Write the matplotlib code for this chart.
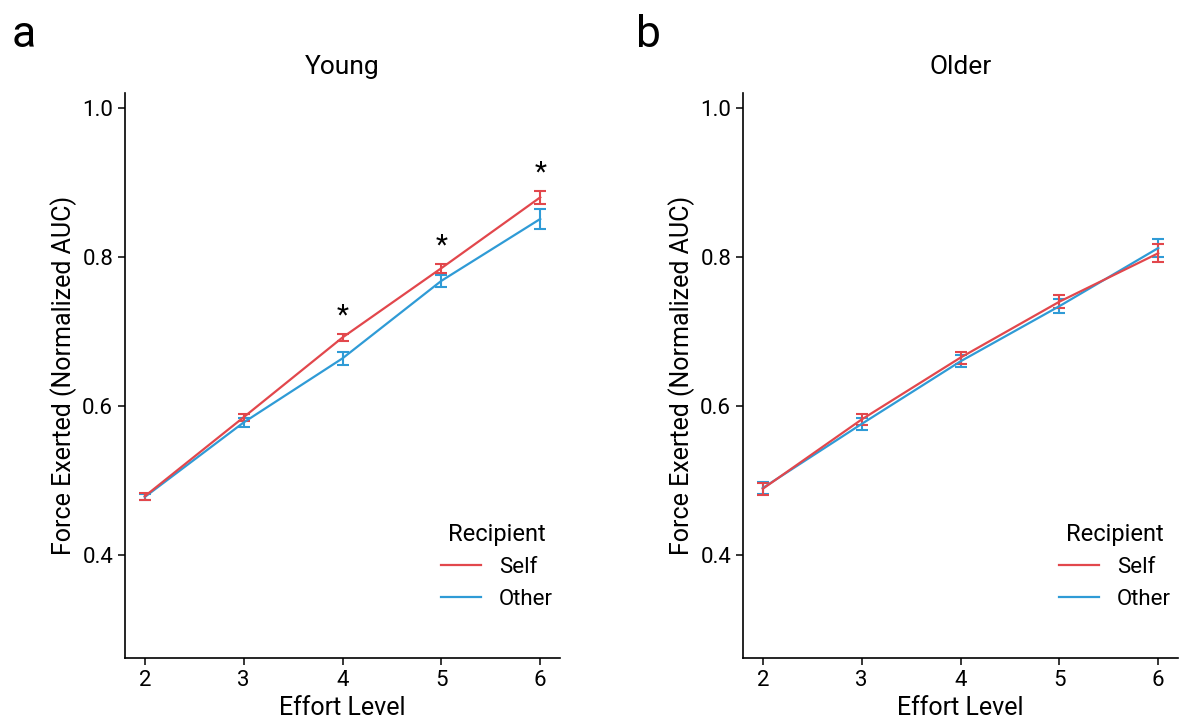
import matplotlib
matplotlib.use("Agg")
import matplotlib.pyplot as plt

plt.rcParams['font.family'] = ['Roboto', 'Liberation Sans', 'DejaVu Sans']

effort = [2, 3, 4, 5, 6]
young_self = [0.479, 0.585, 0.692, 0.785, 0.880]
young_self_err = [0.005, 0.005, 0.005, 0.006, 0.009]
young_other = [0.478, 0.578, 0.664, 0.768, 0.851]
young_other_err = [0.004, 0.006, 0.009, 0.008, 0.013]
older_self = [0.489, 0.582, 0.665, 0.740, 0.805]
older_self_err = [0.008, 0.008, 0.008, 0.009, 0.012]
older_other = [0.490, 0.576, 0.660, 0.734, 0.812]
older_other_err = [0.008, 0.008, 0.008, 0.009, 0.012]
star_levels = [4, 5, 6]
yticks = [0.4, 0.6, 0.8, 1.0]

RED = '#E2474C'
BLUE = '#2F9BD6'

fig = plt.figure(figsize=(11.8, 7.2), dpi=100)
W, H = 1180, 720
def mk(l, r):
    return fig.add_axes([l / W, (H - 658) / H, (r - l) / W, (658 - 93) / H])
axa = mk(125, 560)
axb = mk(743, 1178)

def draw(ax, s, se, o, oe, title):
    ax.errorbar(effort, o, yerr=oe, color=BLUE, lw=1.6, capsize=4, capthick=1.5, elinewidth=1.5, label='Other')
    ax.errorbar(effort, s, yerr=se, color=RED, lw=1.6, capsize=4, capthick=1.5, elinewidth=1.5, label='Self')
    ax.set_xlim(1.8, 6.2)
    ax.set_ylim(0.262, 1.02)
    ax.set_xticks(effort)
    ax.set_yticks(yticks)
    ax.set_yticklabels([f'{v:.1f}' for v in yticks])
    for sp in ['top', 'right']:
        ax.spines[sp].set_visible(False)
    for sp in ['left', 'bottom']:
        ax.spines[sp].set_linewidth(1.2)
    ax.tick_params(labelsize=16, length=5, width=1.1)
    ax.set_xlabel('Effort Level', fontsize=18, labelpad=4)
    ax.set_ylabel('Force Exerted (Normalized AUC)', fontsize=18)
    ax.set_title(title, fontsize=19, pad=14)
    h, l = ax.get_legend_handles_labels()
    hh = [hx[0] for hx in h]
    ax.legend([hh[1], hh[0]], ['Self', 'Other'], title='Recipient', fontsize=16, title_fontsize=17,
              frameon=False, loc='lower right', bbox_to_anchor=(1.03, 0.05), handlelength=1.8)

draw(axa, young_self, young_self_err, young_other, young_other_err, 'Young')
draw(axb, older_self, older_self_err, older_other, older_other_err, 'Older')

for x in star_levels:
    i = effort.index(x)
    axa.text(x, young_self[i] + young_self_err[i] + 0.006, '*', ha='center', va='bottom', fontsize=20)

fig.text(12 / W, 1 - 35 / H, 'a', fontsize=32, va='center')
fig.text(636 / W, 1 - 35 / H, 'b', fontsize=32, va='center')

fig.savefig('out.png', dpi=100)
